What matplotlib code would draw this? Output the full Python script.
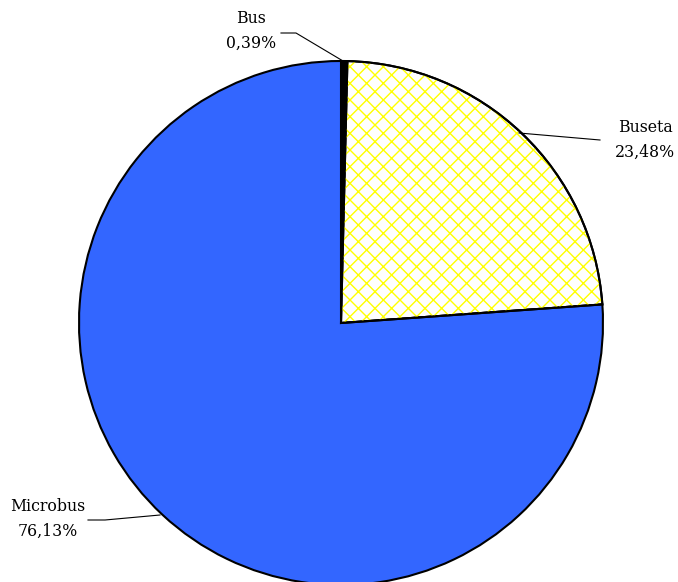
import numpy as np
import matplotlib.pyplot as plt
from matplotlib.patches import Wedge

labels = ["Bus", "Buseta", "Microbus"]
shares = [0.39, 23.48, 76.13]
label_text = ["Bus\n0,39%", "Buseta\n23,48%", "Microbus\n76,13%"]

plt.rcParams['font.family'] = ['DejaVu Serif']

W, H = 678, 582
cx, cy, R = 341, 323, 262

fig = plt.figure(figsize=(W / 100, H / 100), dpi=100)
ax = fig.add_axes([0, 0, 1, 1])

colors = ["black", "white", "#3366FF"]
wedges, _ = ax.pie(shares, colors=colors, startangle=90, counterclock=False,
                   radius=1, center=(0, 0), frame=True,
                   wedgeprops=dict(edgecolor="black", linewidth=1.5))
ax.set_xlim(-cx / R, (W - cx) / R)
ax.set_ylim(-(H - cy) / R, cy / R)
ax.set_aspect('equal')
ax.axis('off')

# yellow cross hatch on the Buseta slice
w = wedges[1]
hatch = Wedge(w.center, w.r, w.theta1, w.theta2, facecolor="none",
              edgecolor="#FFFF00", hatch="xx", linewidth=0, zorder=w.get_zorder() + 0.1)
ax.add_patch(hatch)
outline = Wedge(w.center, w.r, w.theta1, w.theta2, facecolor="none",
                edgecolor="black", linewidth=1.5, zorder=w.get_zorder() + 0.2)
ax.add_patch(outline)

def px(x, y):
    return ((x - cx) / R, (cy - y) / R)

# leader lines and labels (pixel positions)
leaders = [
    [(343, 61), (296, 33), (281, 33)],
    [(519, 133), (600, 140)],
    [(160, 515), (105, 520), (88, 520)],
]
text_pos = [(251, 31), (645, 140), (48, 519)]

for line, tp, txt in zip(leaders, text_pos, label_text):
    pts = np.array([px(*p) for p in line])
    ax.plot(pts[:, 0], pts[:, 1], color="black", linewidth=0.8, zorder=5)
    ax.text(*px(*tp), txt, ha="center", va="center", fontsize=11.3,
            linespacing=1.55, zorder=6)

fig.savefig("out.png", dpi=100)
